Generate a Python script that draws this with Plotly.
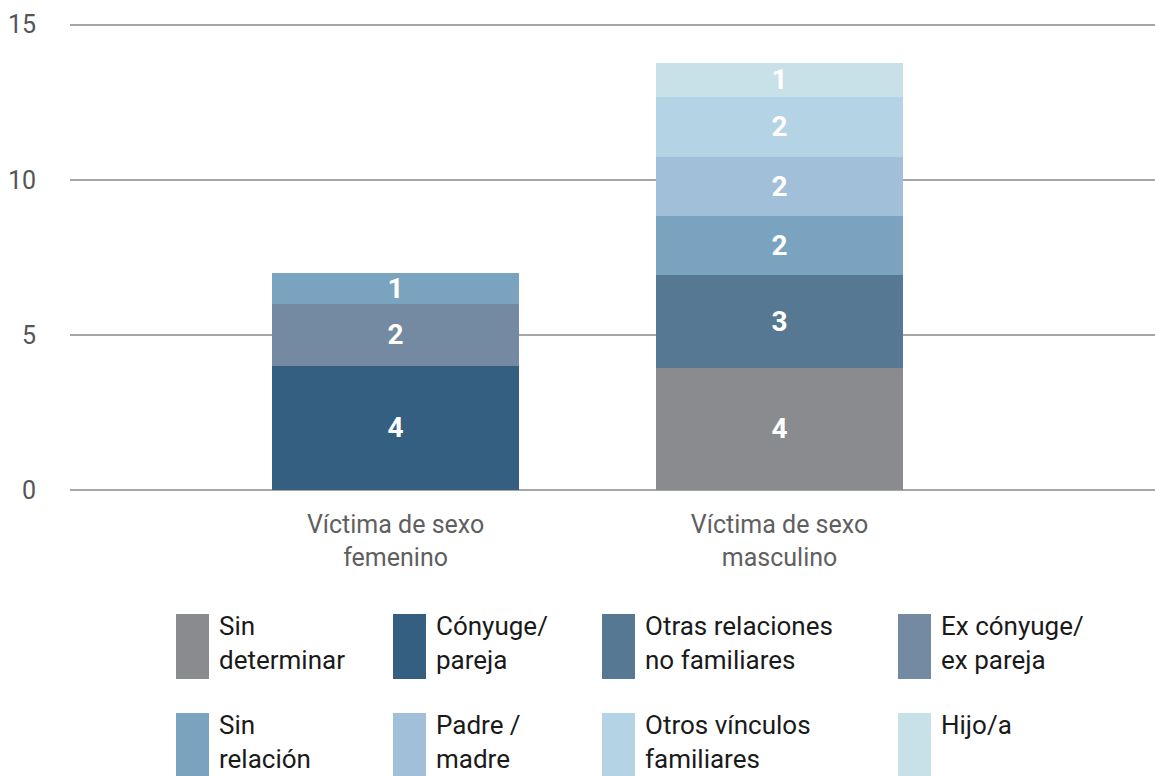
import plotly.graph_objects as go

categories = ["Víctima de sexo<br>femenino", "Víctima de sexo<br>masculino"]
series_names = ["Sin determinar", "Cónyuge/ pareja", "Otras relaciones no familiares",
                "Ex cónyuge/ ex pareja", "Sin relación", "Padre / madre",
                "Otros vínculos familiares", "Hijo/a"]
legend_labels = ["Sin<br>determinar", "Cónyuge/<br>pareja", "Otras relaciones<br>no familiares",
                 "Ex cónyuge/<br>ex pareja", "Sin<br>relación", "Padre /<br>madre",
                 "Otros vínculos<br>familiares", "Hijo/a"]
sin_determinar = [None, 3.94]
conyuge = [4.0, None]
otras_relaciones = [None, 3.0]
ex_conyuge = [2.0, None]
sin_relacion = [1.0, 1.9]
padre_madre = [None, 1.9]
otros_vinculos = [None, 1.94]
hijo = [None, 1.09]
series_values = [sin_determinar, conyuge, otras_relaciones, ex_conyuge,
                 sin_relacion, padre_madre, otros_vinculos, hijo]
colors = ["#8a8b8f", "#345f80", "#567893", "#748aa2", "#7aa3bf", "#a2bfda", "#b4d4e5", "#c8e1e8"]
y_ticks = [0, 5, 10, 15]

W, H = 1155, 776
L, B = 70, 286
YMAX = 15.15
PH = round(31 * YMAX)
T = H - B - PH
fig = go.Figure()
for name, vals, col in zip(series_names, series_values, colors):
    fig.add_trace(go.Bar(
        x=[0, 1], y=vals, name=name, marker=dict(color=col, line=dict(width=0)),
        width=0.643, texttemplate="%{y:.0f}", textposition="inside",
        insidetextanchor="middle", constraintext="none", textangle=0,
        textfont=dict(color="white", size=28, family="Roboto", weight="bold"),
        showlegend=False, hoverinfo="skip"))

# custom legend
col_x = [176, 393, 602, 898]
row_y = [614, 713]
for i, (lab, col) in enumerate(zip(legend_labels, colors)):
    r, c = divmod(i, 4)
    x0 = col_x[c]
    y0 = row_y[r]
    fig.add_shape(type="rect", xref="paper", yref="paper",
                  x0=(x0 - L) / (W - L), x1=(x0 + 33 - L) / (W - L),
                  y0=-(y0 + 65 - (H - B)) / PH, y1=-(y0 - (H - B)) / PH,
                  fillcolor=col, line=dict(width=0))
    fig.add_annotation(xref="paper", yref="paper",
                       x=(x0 + 41 - L) / (W - L), y=-(y0 - 5 - (H - B)) / PH,
                       xanchor="left", yanchor="top", align="left", showarrow=False,
                       text=lab, font=dict(family="Roboto", size=26, color="#1a1a1a"))

fig.update_layout(
    width=W, height=H, barmode="stack", plot_bgcolor="white", paper_bgcolor="white",
    margin=dict(l=L, r=0, t=T, b=B), font=dict(family="Roboto"),
    xaxis=dict(range=[-0.848, 1.978], tickvals=[0, 1], ticktext=categories,
               showgrid=False, zeroline=False, showline=False,
               ticks="outside", ticklen=12, tickcolor="rgba(0,0,0,0)",
               tickfont=dict(size=25, color="#5f5f5f", family="Roboto")),
    yaxis=dict(range=[0, YMAX], tickvals=y_ticks, showgrid=True, gridcolor="#a6a6a6",
               gridwidth=2, zeroline=True, zerolinecolor="#a6a6a6", zerolinewidth=2,
               showline=False, ticklabelstandoff=33,
               tickfont=dict(size=25, color="#555555", family="Roboto")),
)
fig.write_html("out.html", config={"displayModeBar": False},
               post_script="document.body.style.margin='0';")
